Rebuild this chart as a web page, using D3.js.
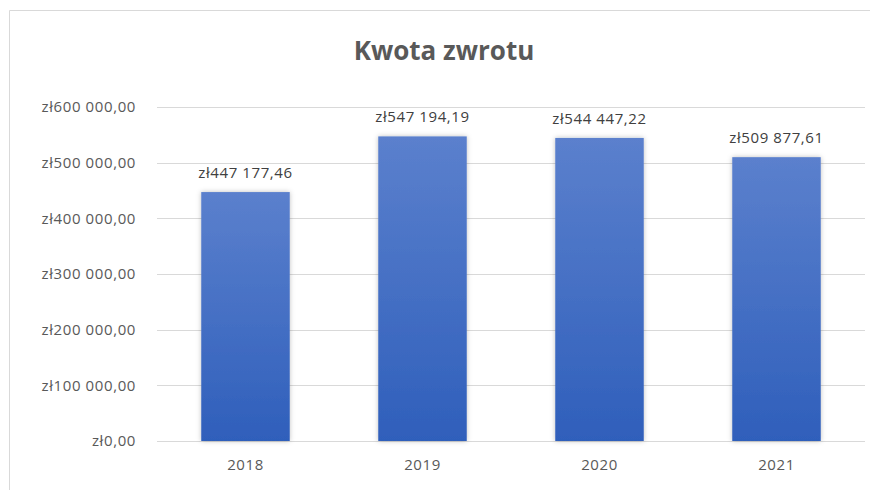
<!DOCTYPE html>
<html>
<head>
<meta charset="utf-8">
<script src="https://cdn.jsdelivr.net/npm/d3@7"></script>
<style>
  body { margin: 0; background: #fff; }
  text { font-family: "Open Sans", "Noto Sans", sans-serif; }
</style>
</head>
<body>
<svg id="chart"></svg>
<script>
// dane
const years = ['2018', '2019', '2020', '2021'];
const amounts = [447177.46, 547194.19, 544447.22, 509877.61];
const yTicks = [0, 100000, 200000, 300000, 400000, 500000, 600000];
const title = 'Kwota zwrotu';

const width = 870, height = 490;
const fontFam = '"Open Sans", "Noto Sans", sans-serif';
const svg = d3.select("#chart").attr("width", width).attr("height", height);

// polski format waluty
const pl = d3.formatLocale({ decimal: ",", thousands: " ", grouping: [3], currency: ["zł", ""] });
const money = pl.format("$,.2f");

const x = d3.scaleBand().domain(years).range([157, 865]).paddingInner(0.5).paddingOuter(0.25);
const y = d3.scaleLinear().domain([0, 600000]).range([441, 107]);

// ramka wykresu
svg.append("path")
  .attr("d", `M9.5,${height} V10.5 H${width}`)
  .attr("fill", "none")
  .attr("stroke", "#d9d9d9");

const defs = svg.append("defs");
const grad = defs.append("linearGradient")
  .attr("id", "barGrad").attr("x1", 0).attr("y1", 0).attr("x2", 0).attr("y2", 1);
grad.append("stop").attr("offset", "0%").attr("stop-color", "#5b80cd");
grad.append("stop").attr("offset", "100%").attr("stop-color", "#2f5fbb");

const shadow = defs.append("filter").attr("id", "shadow")
  .attr("x", "-20%").attr("y", "-20%").attr("width", "140%").attr("height", "140%");
shadow.append("feDropShadow")
  .attr("dx", 0).attr("dy", 0).attr("stdDeviation", 2.5)
  .attr("flood-color", "#000").attr("flood-opacity", 0.25);

// tytuł
svg.append("text")
  .attr("x", 444).attr("y", 60)
  .attr("text-anchor", "middle")
  .attr("font-size", 26).attr("font-weight", "bold")
  .attr("fill", "#595959")
  .text(title);

// linie siatki i oś Y
const yAxis = d3.axisLeft(y).tickValues(yTicks).tickFormat(money).tickSize(0).tickPadding(21);
const gy = svg.append("g").attr("transform", "translate(157,0)").call(yAxis);
gy.select(".domain").remove();
gy.selectAll("text").attr("font-size", 15).attr("fill", "#595959")
  .attr("letter-spacing", 0.6)
  .style("font-family", fontFam);

svg.append("g").selectAll("line")
  .data(yTicks)
  .join("line")
  .attr("x1", 157).attr("x2", 865)
  .attr("y1", d => Math.round(y(d)) + 0.5)
  .attr("y2", d => Math.round(y(d)) + 0.5)
  .attr("stroke", "#d9d9d9");

// słupki
svg.append("g").selectAll("rect")
  .data(amounts)
  .join("rect")
  .attr("x", (d, i) => x(years[i]))
  .attr("y", d => y(d))
  .attr("width", x.bandwidth())
  .attr("height", d => y(0) - y(d))
  .attr("fill", "url(#barGrad)")
  .attr("filter", "url(#shadow)");

// etykiety danych
svg.append("g").selectAll("text")
  .data(amounts)
  .join("text")
  .attr("x", (d, i) => x(years[i]) + x.bandwidth() / 2)
  .attr("y", d => y(d) - 14)
  .attr("text-anchor", "middle")
  .attr("font-size", 15)
  .attr("letter-spacing", 0.6)
  .attr("fill", "#404040")
  .text(d => money(d));

// oś X
const xAxis = d3.axisBottom(x).tickSize(0).tickPadding(18);
const gx = svg.append("g").attr("transform", "translate(0,441)").call(xAxis);
gx.select(".domain").remove();
gx.selectAll("text").attr("font-size", 15).attr("fill", "#595959")
  .attr("letter-spacing", 0.6)
  .style("font-family", fontFam);
</script>
</body>
</html>
